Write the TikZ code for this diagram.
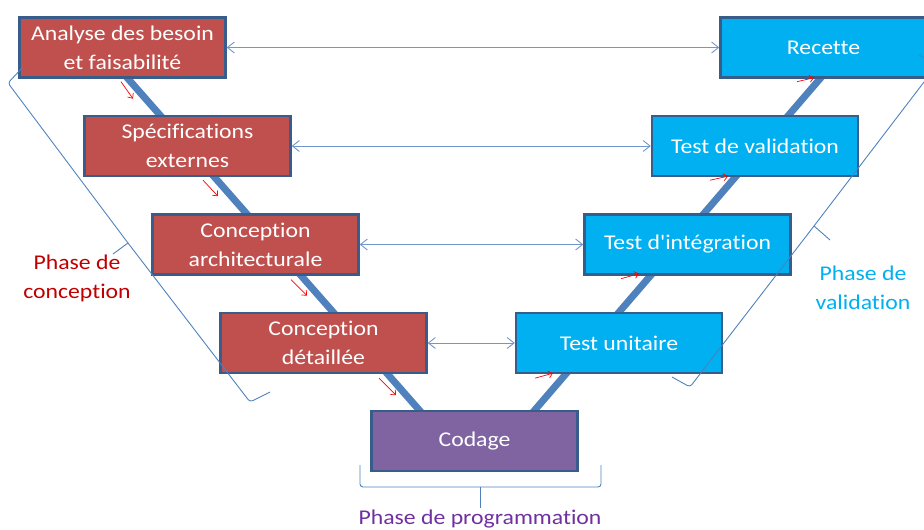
\documentclass[tikz,border=0pt]{standalone}
\usepackage{fontspec}
\setmainfont[FakeStretch=1.13, Ligatures={TeXOff,NoCommon}]{Carlito}
\usetikzlibrary{arrows.meta,calc,backgrounds}
\definecolor{redbox}{HTML}{C0504D}
\definecolor{bluebox}{HTML}{00B0F0}
\definecolor{purplebox}{HTML}{8064A2}
\definecolor{boxborder}{HTML}{385D8A}
\definecolor{vblue}{HTML}{4F81BD}
\definecolor{thinblue}{HTML}{7096CC}
\definecolor{conc}{HTML}{C00000}
\definecolor{valid}{HTML}{00B0F0}
\definecolor{prog}{HTML}{7030A0}
\tikzset{
  box/.style={draw=boxborder, line width=2.4pt, minimum width=206pt, minimum height=60pt,
    inner sep=0pt, align=center, text=white, font=\fontsize{21}{29}\selectfont},
  redb/.style={box, fill=redbox},
  blueb/.style={box, fill=bluebox},
  purpleb/.style={box, fill=purplebox},
  vline/.style={draw=vblue, line width=7pt, shorten <=-6pt, shorten >=-6pt},
  harrow/.style={draw=thinblue, line width=0.9pt,
    {Straight Barb[length=7pt,width=11pt]}-{Straight Barb[length=7pt,width=11pt]}},
  redarr/.style={draw=red, line width=0.7pt, -{Straight Barb[length=4pt,width=7pt]}},
  bracestyle/.style={draw=vblue, line width=0.9pt, rounded corners=3pt},
  phase/.style={align=center, font=\fontsize{21}{29}\selectfont, inner sep=0pt}
}
\begin{document}
\begin{tikzpicture}[x=1pt,y=-1pt]
\useasboundingbox (0,0) rectangle (924,530);
\clip (0,0) rectangle (924,530);
\node[redb] (ana) at (122.5,47.5) {Analyse des besoin\\et faisabilité};
\node[redb] (spec) at (187.5,146) {Spécifications\\externes};
\node[redb] (arch) at (255.5,244.5) {Conception\\architecturale};
\node[redb] (det) at (323.5,343) {Conception\\détaillée};
\node[purpleb] (cod) at (474.5,441) {Codage};
\node[blueb] (tu) at (619,343) {Test unitaire};
\node[blueb] (ti) at (687.5,244.5) {Test d'intégration};
\node[blueb] (tv) at (755,146) {Test de validation};
\node[blueb] (rec) at (823.5,47.5) {Recette};
% thick V line behind the boxes
\begin{pgfonlayer}{background}
\draw[vline] ([xshift=5.5pt]ana.south) -- ([xshift=-55.5pt]cod.north);
\draw[vline] ([xshift=60.5pt]cod.north) -- ([xshift=-3.5pt]rec.south);
\end{pgfonlayer}
% horizontal double arrows
\draw[harrow] (ana.east) -- (rec.west);
\draw[harrow] (spec.east) -- (tv.west);
\draw[harrow] (arch.east) -- (ti.west);
\draw[harrow] (det.east) -- (tu.west);
% red arrows
\draw[redarr] ([shift={(-1.5,3)}]ana.south) -- ++(12,17);
\draw[redarr] ([shift={(15.5,3)}]spec.south) -- ++(15,16);
\draw[redarr] ([shift={(35.5,4)}]arch.south) -- ++(16,16);
\draw[redarr] ([shift={(55.5,4)}]det.south) -- ++(17,17);
\draw[redarr] ([shift={(-84,4)}]tu.south) -- ++(18,-5);
\draw[redarr] ([shift={(-66.5,3)}]ti.south) -- ++(18,-5);
\draw[redarr] ([shift={(-45,3)}]tv.south) -- ++(18,-4);
\draw[redarr] ([shift={(-26.5,3)}]rec.south) -- ++(17,-4);
% braces
\coordinate (lb1) at (23,67);
\coordinate (lb2) at (8,83);
\coordinate (lbm) at (128,243);
\coordinate (lbt) at (113,254);
\coordinate (lb3) at (250,402);
\coordinate (lb4) at (270,392);
\draw[bracestyle] (lb1) -- (lb2) -- (lbm) -- (lb3) -- (lb4);
\draw[bracestyle] (lbm) -- (lbt);
\coordinate (rb1) at (919,55);
\coordinate (rb2) at (937,65);
\coordinate (rbm) at (814,226);
\coordinate (rbt) at (830,240);
\coordinate (rb3) at (690,387);
\coordinate (rb4) at (672,377);
\draw[bracestyle] (rb1) -- (rb2) -- (rbm) -- (rb3) -- (rb4);
\draw[bracestyle] (rbm) -- (rbt);
\coordinate (bb1) at (360,465);
\coordinate (bb2) at (360,487);
\coordinate (bbm) at (480,487);
\coordinate (bbt) at (480,508);
\coordinate (bb3) at (601,487);
\coordinate (bb4) at (601,465);
\draw[bracestyle] (bb1) -- (bb2) -- (bbm) -- (bb3) -- (bb4);
\draw[bracestyle] (bbm) -- (bbt);
% labels
\node[phase, text=conc] (lconc) at (77,278) {Phase de\\conception};
\node[phase, text=valid] (lval) at (863,288) {Phase de\\validation};
\node[phase, text=prog] (lprog) at (480,519) {Phase de programmation};
\end{tikzpicture}
\end{document}
